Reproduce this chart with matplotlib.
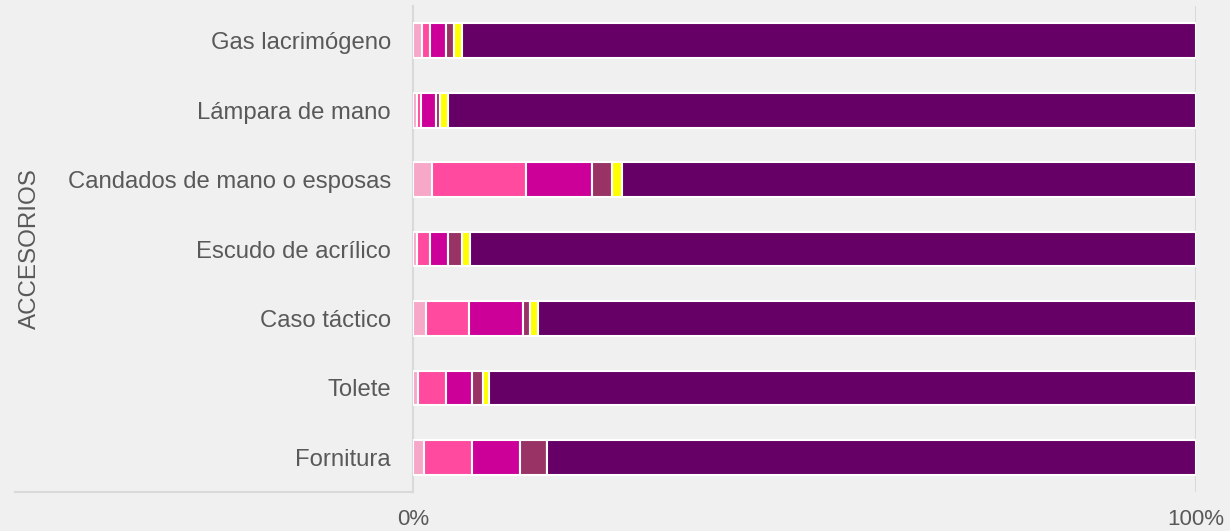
import matplotlib
matplotlib.use("Agg")
import matplotlib.pyplot as plt
from matplotlib.lines import Line2D
import numpy as np

categories = ["Gas lacrimógeno", "Lámpara de mano", "Candados de mano o esposas",
              "Escudo de acrílico", "Caso táctico", "Tolete", "Fornitura"]
# shares (%) per segment, left to right
seg1 = [1.2, 0.5, 2.4, 0.5, 1.7, 0.7, 1.4]
seg2 = [1.0, 0.5, 12.0, 1.7, 5.4, 3.5, 6.1]
seg3 = [2.0, 2.0, 8.5, 2.3, 6.9, 3.3, 6.2]
seg4 = [1.0, 0.4, 2.55, 1.7, 1.0, 1.4, 3.4]
seg5 = [1.0, 1.1, 1.25, 1.1, 1.0, 0.8, 0.0]
seg6 = [93.8, 95.5, 73.3, 92.7, 84.0, 90.3, 82.9]
colors = ["#F7A8C8", "#FF4AA0", "#CC0099", "#993366", "#FFFF00", "#660066"]

text_col = "#595959"
line_col = "#D9D9D9"
bg = "#F0F0F0"

plt.rcParams["font.family"] = ["Liberation Sans", "DejaVu Sans"]

fig = plt.figure(figsize=(12.3, 5.31), dpi=100, facecolor=bg)
ax = fig.add_axes([413 / 1230, 1 - 492 / 531, (1196 - 413) / 1230, (492 - 6) / 531])
ax.set_facecolor(bg)

y = np.arange(len(categories))
left = np.zeros(len(categories))
for vals, c in zip([seg1, seg2, seg3, seg4, seg5, seg6], colors):
    v = np.array(vals) / 100.0
    ax.barh(y, v, left=left, height=0.5, color=c, edgecolor="white", linewidth=1.5, zorder=3)
    left += v

ax.set_ylim(len(categories) - 0.5, -0.5)
ax.set_xlim(0, 1)
ax.set_yticks(y)
ax.set_yticklabels(categories)
ax.set_xticks([0, 1])
ax.set_xticklabels(["0%", "100%"])
ax.tick_params(axis="y", length=0, pad=16, labelsize=17.2, labelcolor=text_col)
ax.tick_params(axis="x", length=0, pad=12, labelsize=16, labelcolor=text_col)
ax.axvline(1, color=line_col, lw=1.5, zorder=1)
for s in ["top", "right", "bottom"]:
    ax.spines[s].set_visible(False)
ax.spines["left"].set_color(line_col)
ax.spines["left"].set_linewidth(1.5)

fig.add_artist(Line2D([15 / 1230, 413 / 1230], [1 - 492 / 531, 1 - 492 / 531],
                      color=line_col, lw=1.5, transform=fig.transFigure))
fig.text(30 / 1230, 1 - 249 / 531, "ACCESORIOS", rotation=90, ha="center", va="center",
         fontsize=17.4, color=text_col)

fig.savefig("out.png", dpi=100, facecolor=bg)
